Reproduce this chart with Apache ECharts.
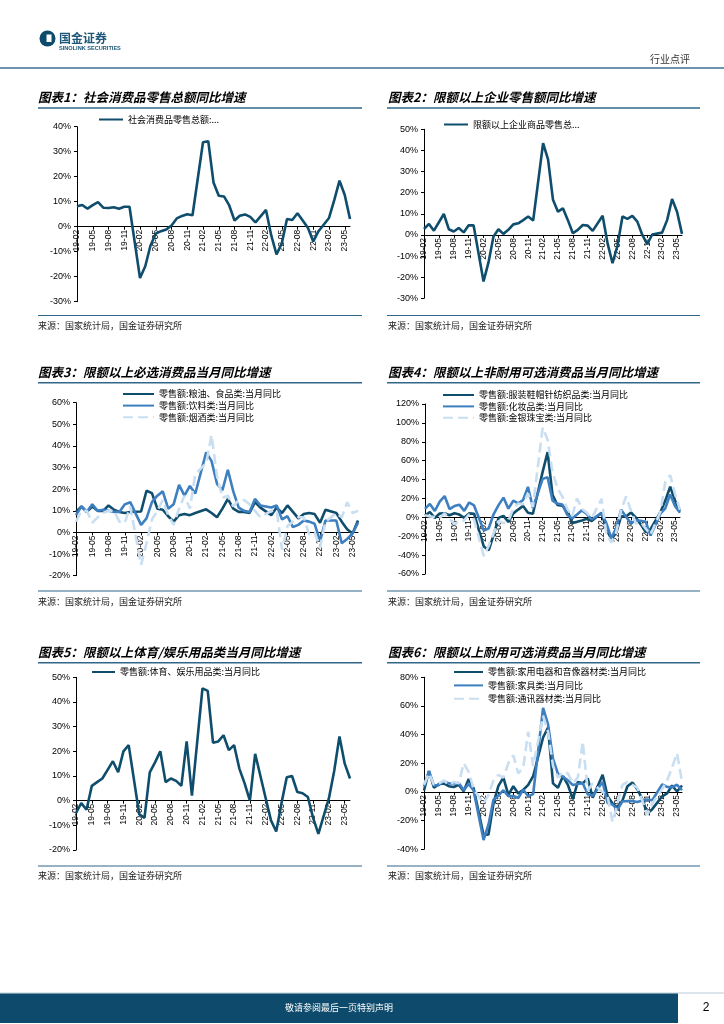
<!DOCTYPE html>
<html><head><meta charset="utf-8">
<script src="https://cdn.jsdelivr.net/npm/echarts@6/dist/echarts.min.js"></script>
<style>html,body{margin:0;padding:0;background:#fff}#c{width:724px;height:1024px}</style>
</head><body><div id="c"></div>
<script>
// ---------- categories (tick labels) ----------
const months = ['19-02','19-03','19-04','19-05','19-06','19-07','19-08','19-09','19-10','19-11','19-12',
'20-01','20-02','20-03','20-04','20-05','20-06','20-07','20-08','20-09','20-10','20-11','20-12',
'21-01','21-02','21-03','21-04','21-05','21-06','21-07','21-08','21-09','21-10','21-11','21-12',
'22-01','22-02','22-03','22-04','22-05','22-06','22-07','22-08','22-09','22-10','22-11','22-12',
'23-01','23-02','23-03','23-04','23-05','23-06'];

// ---------- chart 1 ----------
const retailTotal = [8.2,8.7,7.2,8.6,9.8,7.6,7.5,7.8,7.2,8.0,8.0,
 null,-20.5,-15.8,-7.5,-2.8,-1.8,-1.1,0.5,3.3,4.3,5.0,4.6,
 null,33.8,34.2,17.7,12.4,12.1,8.5,2.5,4.4,4.9,3.9,1.7,
 null,6.7,-3.5,-11.1,-6.7,3.1,2.7,5.4,2.5,-0.5,-5.9,-1.8,
 null,3.5,10.6,18.4,12.7,3.1];
// ---------- chart 2 ----------
const retailAbove = [2.8,5.2,2.0,6.0,9.9,2.7,1.6,3.3,1.2,4.6,4.5,
 null,-22.0,-13.0,-0.8,2.7,0.5,2.4,5.0,5.5,7.0,8.7,6.8,
 null,43.4,35.8,16.6,11.0,12.6,7.0,0.8,2.4,4.7,4.4,1.9,
 null,9.1,-4.0,-13.4,-5.0,8.7,7.6,9.0,6.3,0.0,-4.3,0.2,
 null,1.1,7.0,17.0,11.0,0.5];
// ---------- chart 3 ----------
const grainFood = [9.5,12,9.5,12,10,10,12.5,10.5,9.5,9,9.5,
 null,9.7,19.3,18.2,11,10.5,7.5,5,8,8.5,8,9,
 null,10.7,9,7,11,15.5,11,9.5,9.5,9,14,11.5,
 null,8,11.5,9,12.5,9.5,6.5,8.5,9,8.5,4.5,10.5,
 null,9,5,1.5,-0.5,5.5];
const beverage = [8,12,9.5,13,10,10.5,10,9.5,9.5,13,14,
 null,3.5,6.5,14,17,19,11,13,22,17,21.5,18,
 null,37,33,22.5,19.5,29,19,11.5,10,9.5,15.5,12.5,
 null,11.5,12.5,6,7.5,2.5,3.5,5.5,5,4,-4,5.5,
 null,5.5,-5,-3,-0.5,4.5];
const tobaccoWine = [5,10,10,4.5,7,9,10,10,5,4.5,12,
 null,-15,-5,6,10,15,8,3.5,11,17,11,27,
 null,32,45,26,16,17,12,15,15,13,10,7,
 null,10,10,-8,3,5,7,7,-1,0,-7,5,
 null,9,7,14,9,10];
// ---------- chart 4 ----------
const clothing = [1.8,5.6,-0.7,4.0,4.3,2.2,4.3,2.9,-0.5,4.2,3.8,
 null,-30.9,-34.8,-18.5,-0.6,1.6,-5.0,4.2,8.2,12.1,4.9,3.8,
 null,48.4,69.1,23.9,13.2,12.2,7.5,-6.0,-4.8,-3.3,-1.6,-3.9,
 null,4.8,-12.7,-22.8,-16.2,1.2,0.8,5.1,-0.3,-7.5,-15.6,-12.5,
 null,5.4,17.7,32.4,17.6,6.9];
const cosmetics = [8.9,14.2,6.7,16.7,22.5,8.8,11.9,13.4,6.9,15.7,12.6,
 null,-14.1,-11.6,3.5,12.9,20.9,9.2,17.6,14.8,18.3,32.3,9.9,
 null,40.7,42.5,17.8,14.6,13.5,2.7,-1.2,2.9,7.4,3.5,-2.3,
 null,4.4,-6.3,-22.3,-11.0,8.1,0.7,-6.4,-3.1,-3.7,-4.6,-19.3,
 null,3.8,9.6,24.3,11.7,4.8];
const jewelry = [2.1,0.8,0.4,-0.9,4.3,-1.6,-7.0,-4.9,-3.1,3.1,-2.3,
 null,-41.1,-30.0,-16.8,-3.9,-6.1,-4.0,9.3,14.6,13.9,25.4,11.0,
 null,95,82.5,48.0,31.0,22.0,9.0,1.0,20.0,9.0,5.0,-1.0,
 null,19.5,-17.9,-26.7,-15.5,7.8,22.1,7.2,-6.6,-5.0,-12.0,-18.4,
 null,5.9,37.4,44.7,24.4,7.8];
// ---------- chart 5 ----------
const sports = [-5,-1,-3.7,6,7.5,9,12.5,16,11.5,20,22.5,
 null,-5.5,-7,11.5,15.5,20,7.5,9,8,6,24,2,
 null,45.5,44.5,23.5,24,26.5,20.5,22.5,13,7,0,19,
 null,1,-8,-12.5,-1,9.5,10,3.5,3,1.5,-7,-13.5,
 null,1,12,26,15,9];
// ---------- chart 6 ----------
const appliance = [1,14.5,3,5.5,6,4,3.5,5,0.5,9,2.5,
 null,-30,-29.7,-8,4.3,10,-2,4,-1,1.5,5,11,
 null,38,45,6,3,11,5,-5,7,6,9.5,-4,
 null,12,-3,-8,-11,-6,4,6.5,2,-5,-15,-12,
 null,-3,-1,4.5,0.3,4.5];
const furniture = [3.9,14.5,4.5,4.8,7.6,6,5.9,6.3,1.3,5.6,1.1,
 null,-33.5,-22.7,-5.4,-2.6,1.2,-2.9,-2.8,-4.2,1.6,-3,-1.5,
 null,58.7,47.2,23.2,12.6,10.6,8.1,4.9,5.6,6.1,-1.6,-2.6,
 null,7,-7.7,-8.8,-12.2,-6.6,-6.3,-6.4,-7,-6,-5.2,-5.8,
 null,5.2,3.5,3.4,5,1.2];
const telecom = [5,13,5,6,8,5,7,6,20,14,2,
 null,-8,-2,8,12,10,20,25.5,13,17,42,18,
 null,53,42,18,10,14,13,6,10,35,1,6,
 null,0,-3,-21,-8,5,7,5,3,-6,-16,-8,
 null,2,8,17,27,7];

// ---------- styling ----------
const DARK = '#0f4d6d', MID = '#3e7fc0', LIGHT = '#c9dff1';
const NUM_FONT = '"Liberation Sans", Arial, sans-serif';
const CJK = '"Noto Sans CJK SC", "Liberation Sans", sans-serif';
const RULE = '#2f6689';

const grids = [
  {left:77,  top:126.7, width:273, height:175},
  {left:424, top:129.3, width:258, height:169},
  {left:76,  top:402.7, width:282, height:173},
  {left:425, top:404,   width:255, height:170},
  {left:76,  top:677.3, width:274, height:172.7},
  {left:424, top:677.3, width:258, height:172}
];
const yRanges = [[-30,40,10],[-30,50,10],[-20,60,10],[-60,120,20],[-20,50,10],[-40,80,20]];

// the category axis sits on the 0% line; its offset from the grid bottom follows from the y range
const xAxes = grids.map((g,i)=>({
  type:'category', gridIndex:i, data:months, boundaryGap:false, position:'bottom',
  offset: -g.height * (-yRanges[i][0]) / (yRanges[i][1] - yRanges[i][0]),
  axisLine:{onZero:false, lineStyle:{color:'#000', width:1}},
  axisTick:{show:true, interval:2, length:3, lineStyle:{color:'#000'}},
  axisLabel:{interval:2, rotate:90, fontSize:8.5, margin:3, color:'#000', fontFamily:NUM_FONT},
  splitLine:{show:false}
}));
const yAxes = yRanges.map((r,i)=>({
  type:'value', gridIndex:i, min:r[0], max:r[1], interval:r[2],
  axisLine:{show:true, lineStyle:{color:'#000', width:1}},
  axisTick:{show:true, length:3, lineStyle:{color:'#000'}},
  axisLabel:{formatter:'{value}%', fontSize:9, margin:6, color:'#000', fontFamily:NUM_FONT},
  splitLine:{show:false}
}));

function ser(name, data, idx, color, dashed){
  return {type:'line', name, data, xAxisIndex:idx, yAxisIndex:idx, symbol:'none',
    connectNulls:true, smooth:false,
    lineStyle:{color, width:2.6, type: dashed ? [10,5] : 'solid'},
    itemStyle:{color}};
}
const N1='社会消费品零售总额:...', N2='限额以上企业商品零售总...';
const N3=['零售额:粮油、食品类:当月同比','零售额:饮料类:当月同比','零售额:烟酒类:当月同比'];
const N4=['零售额:服装鞋帽针纺织品类:当月同比','零售额:化妆品类:当月同比','零售额:金银珠宝类:当月同比'];
const N5='零售额:体育、娱乐用品类:当月同比';
const N6=['零售额:家用电器和音像器材类:当月同比','零售额:家具类:当月同比','零售额:通讯器材类:当月同比'];

const series = [
  ser(N1, retailTotal, 0, DARK),
  ser(N2, retailAbove, 1, DARK),
  ser(N3[0], grainFood, 2, DARK), ser(N3[1], beverage, 2, MID), ser(N3[2], tobaccoWine, 2, LIGHT, true),
  ser(N4[0], clothing, 3, DARK), ser(N4[1], cosmetics, 3, MID), ser(N4[2], jewelry, 3, LIGHT, true),
  ser(N5, sports, 4, DARK),
  ser(N6[0], appliance, 5, DARK), ser(N6[1], furniture, 5, MID), ser(N6[2], telecom, 5, LIGHT, true)
];

const legText = {fontSize:9, color:'#000', fontFamily:CJK};
function leg(data, left, top, w, gap){
  return {data, left, top, orient:'vertical', itemWidth:w, itemHeight:8, itemGap:gap,
    itemStyle:{opacity:0}, textStyle:legText, padding:0, selectedMode:false};
}
const legends = [
  leg([N1], 98, 115, 24, 2),
  leg([N2], 443, 120, 24, 2),
  leg(N3, 122, 389.5, 31, 2.6),
  leg(N4, 442, 390.5, 31, 2.4),
  leg([N5], 91, 667.5, 23, 2),
  leg(N6, 453, 667.5, 29, 4.4)
];

// ---------- page furniture ----------
function txt(t, x, y, font, fill, align){
  return {type:'text', silent:true, style:{text:t, x, y, font, fill:fill||'#000', align:align||'left', verticalAlign:'middle'}};
}
function ln(x1,y1,x2,y2,c,w){
  return {type:'line', silent:true, shape:{x1,y1,x2,y2}, style:{stroke:c, lineWidth:w}};
}
const TITLE_FONT = 'italic bold 12.5px "Noto Sans CJK SC"';
const SRC_FONT = '9px "Noto Sans CJK SC"';
const SRC = '来源：国家统计局，国金证券研究所';
const graphics = [
  {type:'circle', silent:true, shape:{cx:47.5, cy:38.5, r:8}, style:{fill:'#0d4b6c'}},
  {type:'rect', silent:true, shape:{x:46.5, y:34.5, width:5, height:7.5}, style:{fill:'#fff'}},
  txt('国金证券', 59, 38, 'bold 12px "Noto Sans CJK SC"', '#1d5677'),
  txt('SINOLINK SECURITIES', 59, 48, 'bold 5.6px "Liberation Sans"', '#1d5677'),
  txt('行业点评', 690, 59, '10px "Noto Sans CJK SC"', '#333', 'right'),
  ln(0, 68, 724, 68, '#3f7194', 1.4),

  txt('图表1：社会消费品零售总额同比增速', 38, 97, TITLE_FONT),
  txt('图表2：限额以上企业零售额同比增速', 388, 97, TITLE_FONT),
  ln(38, 108, 362, 108, RULE, 1.5), ln(387, 108, 700, 108, RULE, 1.5),
  ln(38, 315.5, 362, 315.5, RULE, 1.2), ln(387, 315.5, 700, 315.5, RULE, 1.2),
  txt(SRC, 38, 326, SRC_FONT, '#222'), txt(SRC, 388, 326, SRC_FONT, '#222'),

  txt('图表3：限额以上必选消费品当月同比增速', 38, 372, TITLE_FONT),
  txt('图表4：限额以上非耐用可选消费品当月同比增速', 388, 372, TITLE_FONT),
  ln(38, 382.7, 362, 382.7, RULE, 1.5), ln(387, 382.7, 700, 382.7, RULE, 1.5),
  ln(38, 591, 362, 591, RULE, 1.2), ln(387, 591, 700, 591, RULE, 1.2),
  txt(SRC, 38, 602, SRC_FONT, '#222'), txt(SRC, 388, 602, SRC_FONT, '#222'),

  txt('图表5：限额以上体育/娱乐用品类当月同比增速', 38, 652, TITLE_FONT),
  txt('图表6：限额以上耐用可选消费品当月同比增速', 388, 652, TITLE_FONT),
  ln(38, 662.7, 362, 662.7, RULE, 1.5), ln(387, 662.7, 700, 662.7, RULE, 1.5),
  ln(38, 866, 362, 866, RULE, 1.2), ln(387, 866, 700, 866, RULE, 1.2),
  txt(SRC, 38, 876, SRC_FONT, '#222'), txt(SRC, 388, 876, SRC_FONT, '#222'),

  ln(0, 993, 724, 993, '#b9cbd8', 1),
  {type:'rect', silent:true, shape:{x:0, y:993.5, width:678, height:29.5}, style:{fill:'#0d4a6b'}},
  txt('敬请参阅最后一页特别声明', 339, 1007.5, '9px "Noto Sans CJK SC"', '#fff', 'center'),
  txt('2', 706, 1008, '12px "Liberation Sans"', '#000', 'center')
];

const chart = echarts.init(document.getElementById('c'));
chart.setOption({
  animation:false,
  backgroundColor:'#fff',
  grid:grids,
  xAxis:xAxes,
  yAxis:yAxes,
  legend:legends,
  series,
  graphic:graphics
});
</script></body></html>
